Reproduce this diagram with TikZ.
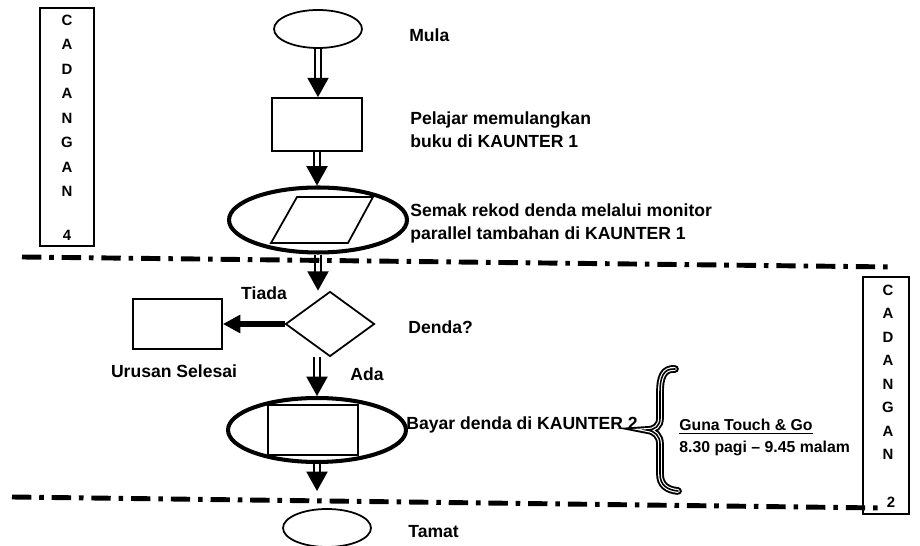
\documentclass[tikz,border=0pt]{standalone}
\usepackage{fontspec}
\setmainfont{Liberation Sans}
\usetikzlibrary{shapes.geometric,arrows.meta}

\begin{document}
\begin{tikzpicture}[x=0.02cm,y=-0.02cm,
  outline/.style={draw,line width=1pt,inner sep=0pt},
  terminal/.style={outline,ellipse,minimum width=1.76cm,minimum height=0.76cm},
  process/.style={outline,rectangle},
  ring/.style={draw,ellipse,line width=2.3pt,inner sep=0pt,minimum width=3.56cm,minimum height=1.3cm},
  decision/.style={outline,diamond,minimum width=1.78cm,minimum height=1.3cm},
  label/.style={inner sep=0pt,font=\fontsize{10}{13.3}\selectfont\bfseries,align=left},
  note/.style={inner sep=0pt,font=\fontsize{9}{11}\selectfont\bfseries},
  tag/.style={inner sep=0pt,font=\fontsize{8.5}{10}\selectfont\bfseries},
  flow/.style={double,double distance=2.4pt,line width=1pt,-{Triangle[width=12pt,length=11pt]}},
  flowleft/.style={line width=3pt,-{Triangle[width=10pt,length=10pt]}},
  divider/.style={line width=2.8pt,dash pattern=on 11pt off 4.5pt on 2.6pt off 4.5pt},
]
\useasboundingbox (0,0) rectangle (920,546);

% reserve columns
\node[process,minimum width=1.08cm,minimum height=4.76cm] (res4) at (67,127) {};
\foreach \ch [count=\i] in {C,A,D,A,N,G,A,N}
  \node[tag] (res4-\i) at (67,{20+24.5*(\i-1)}) {\ch};
\node[tag] (res4-num) at (67,235) {4};

\node[process,minimum width=0.92cm,minimum height=4.74cm] (res2) at (886,395.5) {};
\foreach \ch [count=\i] in {C,A,D,A,N,G,A,N}
  \node[tag] (res2-\i) at (888,{290+23.5*(\i-1)}) {\ch};
\node[tag] (res2-num) at (891,502) {2};

% flow shapes
\node[terminal] (start) at (318,29) {};
\node[process,minimum width=1.8cm,minimum height=1.06cm] (return) at (317,124.5) {};
\node[ring] (check) at (318,220) {};
\draw[line width=1pt] (297,197) -- (373,197) -- (348,243) -- (271,243) -- cycle;
\node[decision] (fine) at (330,324) {};
\node[process,minimum width=1.78cm,minimum height=1.0cm] (done) at (177.5,324) {};
\node[ring,minimum height=1.28cm] (pay) at (317,430) {};
\node[process,minimum width=1.8cm,minimum height=1.0cm] (counter) at (313,430) {};
\node[terminal] (end) at (327,528) {};
\coordinate (cut2) at (317,491);

% connectors
\draw[flow] (start.south) -- (start.south |- return.north);
\draw[flow] (return.south) -- (return.south |- check.north);
\draw[flow] (check.south) -- (check.south |- fine.north);
\draw[flowleft] (fine.west) -- (done.east);
\draw[flow] (fine.south -| pay.north) -- (pay.north);
\draw[flow] (pay.south) -- (cut2);

% section dividers
\draw[divider] (22,257) -- (893,267);
\draw[divider] (12,497) -- (880,508);

% labels
\node[label,anchor=base west] (startText) at (409,42) {Mula};
\node[label,anchor=north west] (returnText) at (410,111) {Pelajar memulangkan\\buku di KAUNTER 1};
\node[label,anchor=north west] (checkText) at (410,203) {Semak rekod denda melalui monitor\\parallel tambahan di KAUNTER 1};
\node[label,anchor=base] (noText) at (264,300) {Tiada};
\node[label,anchor=base west] (fineText) at (408,334) {Denda?};
\node[label,anchor=base] (doneText) at (174,378) {Urusan Selesai};
\node[label,anchor=base] (yesText) at (367,381) {Ada};
\node[label,anchor=base west] (payText) at (406,430) {Bayar denda di KAUNTER 2};
\node[label,anchor=base west] (endText) at (408,538) {Tamat};

% brace with payment notes
\foreach \w/\c in {4.4pt/black,2.2pt/white,0.9pt/black}
  \draw[line width=\w,\c,line cap=round] (675,369) .. controls (663,368) and (660,378) .. (660,392)
    -- (660,418) .. controls (660,426) and (655,430) .. (647,430)
    .. controls (655,431) and (660,436) .. (660,444)
    -- (660,474) .. controls (660,485) and (667,490) .. (678,491);
\node[note,anchor=base west] (tng) at (679,431) {\underline{Guna Touch \& Go}};
\node[note,anchor=base west] (hours) at (679,453) {8.30 pagi -- 9.45 malam};
\end{tikzpicture}
\end{document}
